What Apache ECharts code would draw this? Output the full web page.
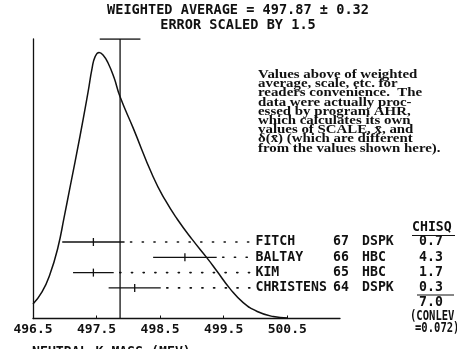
<!DOCTYPE html>
<html><head><meta charset="utf-8">
<script src="https://cdn.jsdelivr.net/npm/echarts@6/dist/echarts.min.js"></script>
<style>html,body{margin:0;padding:0;background:#fff}#c{width:457px;height:349px}</style>
</head><body><div id="c"></div>
<script>
// ---- data ----
const titleLines = ['WEIGHTED AVERAGE = 497.87 \u00b1 0.32', 'ERROR SCALED BY 1.5'];
const tickValues = [496.5, 497.5, 498.5, 499.5, 500.5];
const curveX = [496.500, 496.642, 496.768, 496.894, 496.988, 497.083, 497.240, 497.366, 497.430, 497.476, 497.539, 497.602, 497.681, 497.776, 497.870, 498.075, 498.390, 498.579, 498.768, 499.004, 499.240, 499.398, 499.602, 499.807, 500.028, 500.280, 500.500];
const curveY = [0.052, 0.095, 0.159, 0.256, 0.360, 0.470, 0.653, 0.810, 0.896, 0.936, 0.952, 0.943, 0.914, 0.861, 0.793, 0.682, 0.507, 0.424, 0.356, 0.283, 0.216, 0.168, 0.106, 0.057, 0.025, 0.007, 0.002];
const names = ['FITCH', 'BALTAY', 'KIM', 'CHRISTENS'];
const years = ['67', '66', '65', '64'];
const techs = ['DSPK', 'HBC', 'HBC', 'DSPK'];
const values = [497.45, 498.89, 497.45, 498.10];
const errors = [0.49, 0.50, 0.32, 0.41];
const chisq = ['0.7', '4.3', '1.7', '0.3'];
const chisqTotal = '7.0';
const conlev = ['(CONLEV', '=0.072)'];
const avgValue = 497.87;
const avgError = 0.32;
const xAxisName = 'NEUTRAL K MASS (MEV)';
const note = ['Values above of weighted', 'average, scale, etc. for', 'readers convenience.  The', 'data were actually proc-', 'essed by program AHR,', 'which calculates its own', 'values of SCALE, x\u0304, and', '\u03b4(x\u0304) (which are different', 'from the values shown here).'];

const INK = '#111';
const MONO = '"DejaVu Sans Mono", monospace';
const TFONT = 'bold 13.6px ' + MONO;
const MFONT = 'bold 13.2px ' + MONO;
const NOTEFONT = 'bold 11.5px "Liberation Serif", serif';
const chart = echarts.init(document.getElementById('c'));

// horizontal stretch of the note so that its lines span the widths seen in the original
const meas = document.createElement('canvas').getContext('2d');
meas.font = NOTEFONT;
const noteScale = (137 + 187 + 182) / (meas.measureText(note[0]).width + meas.measureText(note[2]).width + meas.measureText(note[8]).width);

const curveData = curveX.map((x, i) => [x, curveY[i]]);
const rows = names.map((n, i) => [values[i], i, errors[i]]);

function renderRow(params, api) {
  const i = api.value(1);
  const v = api.value(0), e = api.value(2);
  const c = api.coord([v, i]);
  const l = api.coord([v - e, i]);
  const r = api.coord([v + e, i]);
  const nameX = api.coord([500.0, i])[0];
  const y = c[1];
  const st = { stroke: INK, lineWidth: 1.3 };
  const txt = (t, x, align) => ({ type: 'text', style: { text: t, x: x, y: y, textAlign: align || 'left', textVerticalAlign: 'middle', font: MFONT, fill: INK } });
  return {
    type: 'group', children: [
      { type: 'line', shape: { x1: l[0], y1: y, x2: r[0], y2: y }, style: st },
      { type: 'line', shape: { x1: c[0], y1: y - 4, x2: c[0], y2: y + 4 }, style: st },
      { type: 'line', shape: { x1: r[0] + 6, y1: y, x2: nameX - 2, y2: y }, style: { stroke: INK, lineWidth: 1.6, lineDash: [1.2, 10.5], lineCap: 'round' } },
      txt(names[i], nameX),
      txt(years[i], 333),
      txt(techs[i], 362),
      txt(chisq[i], 431, 'center')
    ]
  };
}

const graphics = [];
titleLines.forEach((t, k) => graphics.push({ type: 'text', x: 238, y: 10 + k * 15, style: { text: t, textAlign: 'center', textVerticalAlign: 'middle', font: TFONT, fill: INK } }));
note.forEach((t, k) => graphics.push({ type: 'text', x: 258, y: 75 + k * 9.2, scaleX: noteScale, style: { text: t, x: 0, y: 0, textVerticalAlign: 'middle', font: NOTEFONT, fill: INK } }));
graphics.push({ type: 'text', x: 412, y: 228, style: { text: 'CHISQ', textVerticalAlign: 'middle', font: MFONT, fill: INK } });
graphics.push({ type: 'line', shape: { x1: 412, y1: 235.5, x2: 455, y2: 235.5 }, style: { stroke: INK, lineWidth: 1.2 } });
graphics.push({ type: 'line', shape: { x1: 417, y1: 295, x2: 454, y2: 295 }, style: { stroke: INK, lineWidth: 1.2 } });
graphics.push({ type: 'text', x: 431, y: 303, style: { text: chisqTotal, textAlign: 'center', textVerticalAlign: 'middle', font: MFONT, fill: INK } });
graphics.push({ type: 'text', x: 410, y: 316.5, scaleX: 0.8, style: { text: conlev[0], x: 0, y: 0, textVerticalAlign: 'middle', font: MFONT, fill: INK } });
graphics.push({ type: 'text', x: 415, y: 329, scaleX: 0.8, style: { text: conlev[1], x: 0, y: 0, textVerticalAlign: 'middle', font: MFONT, fill: INK } });
graphics.push({ type: 'text', x: 32, y: 346, style: { text: xAxisName, font: MFONT, fill: INK } });

chart.setOption({
  animation: false,
  graphic: graphics,
  grid: { left: 33, top: 39, width: 307, height: 279.5 },
  xAxis: {
    type: 'value', min: 496.5, max: 501.33,
    axisLine: { show: true, lineStyle: { color: INK, width: 1.3 } },
    axisTick: { show: true, inside: true, length: 3, customValues: tickValues, lineStyle: { color: INK } },
    axisLabel: { customValues: tickValues, formatter: v => v.toFixed(1), color: INK, fontFamily: MONO, fontWeight: 'bold', fontSize: 13, margin: 5 },
    splitLine: { show: false }
  },
  yAxis: [
    { type: 'value', min: 0, max: 1, axisLine: { show: true, lineStyle: { color: INK, width: 1.3 } }, axisTick: { show: false }, axisLabel: { show: false }, splitLine: { show: false } },
    { type: 'value', min: -13.27, max: 5, inverse: true, show: false, splitLine: { show: false } }
  ],
  series: [
    { type: 'line', data: curveData, smooth: 0.5, showSymbol: false, lineStyle: { color: INK, width: 1.5 }, z: 3 },
    { type: 'line', data: [[avgValue, 0], [avgValue, 1]], showSymbol: false, lineStyle: { color: INK, width: 1.3 } },
    { type: 'line', data: [[avgValue - avgError, 1], [avgValue + avgError, 1]], showSymbol: false, lineStyle: { color: INK, width: 1.3 } },
    { type: 'custom', yAxisIndex: 1, data: rows, renderItem: renderRow, clip: false }
  ]
});
</script></body></html>
